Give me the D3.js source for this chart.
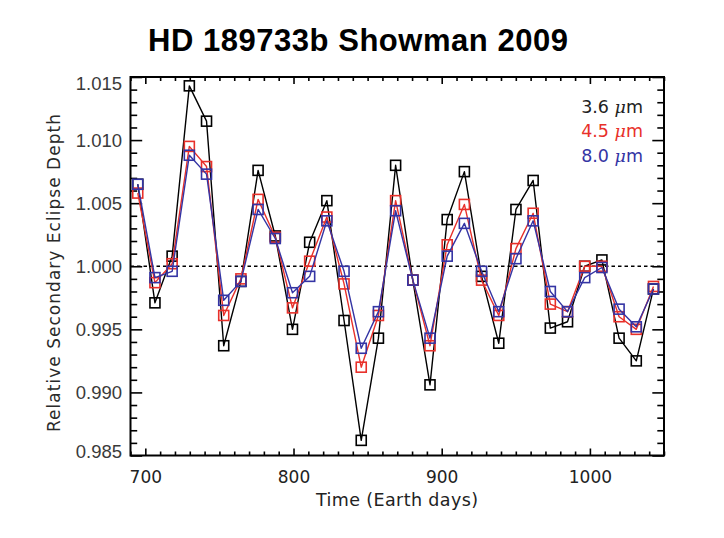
<!DOCTYPE html>
<html>
<head>
<meta charset="utf-8">
<script src="https://cdn.jsdelivr.net/npm/d3@7"></script>
<style>
  html, body { margin: 0; padding: 0; background: #fff; }
  svg { display: block; }
</style>
</head>
<body>
<svg id="chart" width="724" height="538"></svg>
<script>
// ---- data ----
const times = [694.9, 706.5, 718.1, 729.7, 741.3, 752.9, 764.5, 776.1, 787.7, 799.3,
               810.9, 822.5, 834.1, 845.7, 857.3, 868.9, 880.5, 892.1, 903.7, 915.3,
               926.9, 938.5, 950.1, 961.7, 973.3, 984.9, 996.5, 1008.1, 1019.7, 1031.3, 1042.9];
const depth36 = [1.0065, 0.9971, 1.0008, 1.0143, 1.0115, 0.9937, 0.9988, 1.0076, 1.0024, 0.9950,
                 1.0019, 1.0052, 0.9957, 0.9862, 0.9943, 1.0080, 0.9989, 0.9906, 1.0037, 1.0075,
                 0.9992, 0.9939, 1.0045, 1.0068, 0.9951, 0.9956, 1.0000, 1.0005, 0.9943, 0.9925, 0.9982];
const depth45 = [1.0058, 0.9987, 1.0002, 1.0095, 1.0079, 0.9961, 0.9990, 1.0053, 1.0023, 0.9967,
                 1.0004, 1.0039, 0.9986, 0.9920, 0.9961, 1.0052, 0.9989, 0.9937, 1.0017, 1.0049,
                 0.9989, 0.9961, 1.0014, 1.0042, 0.9970, 0.9964, 1.0000, 1.0000, 0.9960, 0.9950, 0.9984];
const depth80 = [1.0065, 0.9991, 0.9996, 1.0088, 1.0073, 0.9973, 0.9988, 1.0045, 1.0022, 0.9979,
                 0.9992, 1.0036, 0.9996, 0.9935, 0.9964, 1.0044, 0.9989, 0.9943, 1.0008, 1.0034,
                 0.9996, 0.9964, 1.0006, 1.0036, 0.9980, 0.9964, 0.9991, 0.9999, 0.9966, 0.9952, 0.9982];
const seriesNames = ["3.6", "4.5", "8.0"];
const xTicks = [700, 800, 900, 1000];
const yTicks = [0.985, 0.990, 0.995, 1.000, 1.005, 1.010, 1.015];
const titleText = "HD 189733b Showman 2009";
const xLabel = "Time  (Earth days)";
const yLabel = "Relative  Secondary  Eclipse  Depth";

// ---- layout ----
const L = 130.5, R = 664, T = 77, B = 455.5;
const svg = d3.select("#chart");
const x = d3.scaleLinear().domain([690, 1050]).range([L, R]);
const y = d3.scaleLinear().domain([0.985, 1.015]).range([B, T]);
const colors = ["#000000", "#e8302a", "#3434a4"];
const legendColors = ["#222222", "#e8302a", "#3434a4"];

// title
svg.append("text").attr("x", 358).attr("y", 51)
  .attr("text-anchor", "middle")
  .attr("font-family", "Liberation Sans, Arial, sans-serif")
  .attr("font-weight", "bold").attr("font-size", 31)
  .attr("textLength", 420).attr("lengthAdjust", "spacing")
  .attr("fill", "#000").text(titleText);

// minor tick values
const xMinor = d3.range(690, 1051, 10).filter(v => !xTicks.includes(v));
const yMinor = d3.range(0, 31).map(i => +(0.985 + i * 0.001).toFixed(3)).filter(v => !yTicks.some(t => Math.abs(t - v) < 1e-9));

function styleAxis(g) {
  g.select(".domain").remove();
  g.selectAll(".tick line").attr("stroke", "#000").attr("stroke-width", 1.6);
}

// left axis
const gl = svg.append("g").attr("transform", `translate(${L},0)`)
  .call(d3.axisLeft(y).tickValues(yTicks).tickSize(-11.7).tickPadding(8.5).tickFormat(d3.format(".3f")));
styleAxis(gl);
gl.selectAll("text").attr("font-family", "Liberation Sans, Arial, sans-serif")
  .attr("font-size", 18.5).attr("fill", "#3a3a3a");
gl.selectAll(".tick text").filter(d => d === 1.015).attr("transform", "translate(0,7)");
gl.selectAll(".tick text").filter(d => d === 0.985).attr("transform", "translate(0,-4)");
const glm = svg.append("g").attr("transform", `translate(${L},0)`)
  .call(d3.axisLeft(y).tickValues(yMinor).tickSize(-6.7).tickFormat(""));
styleAxis(glm);

// right axis
const gr = svg.append("g").attr("transform", `translate(${R},0)`)
  .call(d3.axisRight(y).tickValues(yTicks).tickSize(-11.7).tickFormat(""));
styleAxis(gr);
const grm = svg.append("g").attr("transform", `translate(${R},0)`)
  .call(d3.axisRight(y).tickValues(yMinor).tickSize(-6.7).tickFormat(""));
styleAxis(grm);

// bottom axis
const gb = svg.append("g").attr("transform", `translate(0,${B})`)
  .call(d3.axisBottom(x).tickValues(xTicks).tickSize(-7).tickPadding(15).tickFormat(d3.format("d")));
styleAxis(gb);
gb.selectAll("text").attr("font-family", "DejaVu Sans, sans-serif")
  .attr("font-size", 17).attr("fill", "#222");
const gbm = svg.append("g").attr("transform", `translate(0,${B})`)
  .call(d3.axisBottom(x).tickValues(xMinor).tickSize(-4).tickFormat(""));
styleAxis(gbm);

// top axis
const gt = svg.append("g").attr("transform", `translate(0,${T})`)
  .call(d3.axisTop(x).tickValues(xTicks).tickSize(-7).tickFormat(""));
styleAxis(gt);
const gtm = svg.append("g").attr("transform", `translate(0,${T})`)
  .call(d3.axisTop(x).tickValues(xMinor).tickSize(-4).tickFormat(""));
styleAxis(gtm);

// frame
svg.append("rect").attr("x", L).attr("y", T).attr("width", R - L).attr("height", B - T)
  .attr("fill", "none").attr("stroke", "#000").attr("stroke-width", 2);

// reference line at 1.000
svg.append("line").attr("x1", L).attr("x2", R).attr("y1", y(1.0)).attr("y2", y(1.0))
  .attr("stroke", "#000").attr("stroke-width", 1.5).attr("stroke-dasharray", "3.5,3");

// axis titles
svg.append("text").attr("x", 397).attr("y", 506).attr("text-anchor", "middle")
  .attr("font-family", "DejaVu Sans, sans-serif").attr("font-size", 17.5).attr("fill", "#222")
  .attr("textLength", 162).attr("lengthAdjust", "spacing").text(xLabel);
svg.append("text").attr("transform", "translate(60,273) rotate(-90)").attr("text-anchor", "middle")
  .attr("font-family", "DejaVu Sans, sans-serif").attr("font-size", 17).attr("fill", "#2a2a2a")
  .attr("textLength", 318).attr("lengthAdjust", "spacing").text(yLabel);

// series
const allSeries = [depth36, depth45, depth80];
const line = d3.line().x(d => x(d[0])).y(d => y(d[1]));
allSeries.forEach((vals, si) => {
  const pts = times.map((t, i) => [t, vals[i]]);
  const g = svg.append("g");
  g.append("path").attr("d", line(pts)).attr("fill", "none")
    .attr("stroke", colors[si]).attr("stroke-width", 1.4).attr("stroke-linejoin", "round");
  g.selectAll("rect").data(pts).join("rect")
    .attr("x", d => x(d[0]) - 5).attr("y", d => y(d[1]) - 5)
    .attr("width", 10).attr("height", 10)
    .attr("fill", "none").attr("stroke", colors[si]).attr("stroke-width", 1.6);
});

// legend
seriesNames.forEach((name, i) => {
  const t = svg.append("text").attr("x", 643).attr("y", 112.5 + i * 24.5)
    .attr("text-anchor", "end")
    .attr("font-family", "DejaVu Sans, sans-serif").attr("font-size", 17.5)
    .attr("fill", legendColors[i]);
  t.append("tspan").text(name + " ");
  t.append("tspan").attr("font-style", "italic").attr("font-family", "DejaVu Serif, serif").text("\u03bc");
  t.append("tspan").text("m");
});
</script>
</body>
</html>
